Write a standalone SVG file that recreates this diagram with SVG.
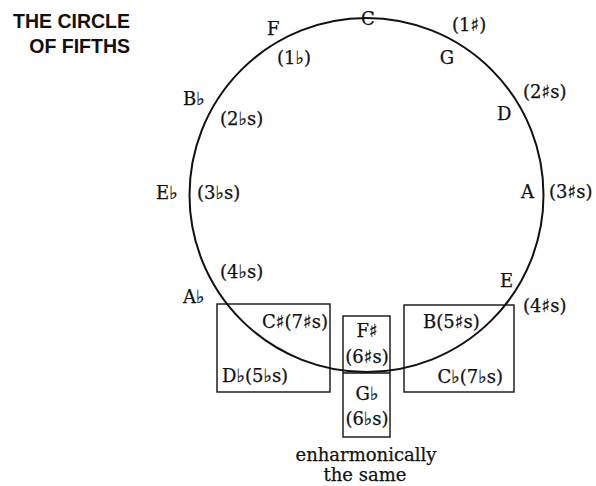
<svg xmlns="http://www.w3.org/2000/svg" width="596" height="486" viewBox="0 0 596 486">
<style>
.t{font-family:"DejaVu Serif","DejaVu Sans",serif;font-size:18px;fill:#111;stroke:#111;stroke-width:0.25}
.m{text-anchor:middle}
.e{text-anchor:end}
.title{font-family:"Liberation Sans",Arial,sans-serif;font-weight:bold;font-size:19.5px;fill:#111;text-anchor:end}
.box{fill:none;stroke:#111;stroke-width:1.4}
</style>
<rect width="596" height="486" fill="#fff"/>
<g id="title">
<text class="title" x="130" y="28">THE CIRCLE</text>
<text class="title" x="130" y="53">OF FIFTHS</text>
</g>
<g id="circle">
<circle cx="366.5" cy="195" r="177" fill="none" stroke="#111" stroke-width="2"/>
</g>
<g id="connectors"></g>
<g id="key-C"><text class="t m" x="368" y="25">C</text></g>
<g id="key-G"><text class="t" x="452" y="31">(1♯)</text><text class="t m" x="447" y="64">G</text></g>
<g id="key-D"><text class="t" x="523" y="98">(2♯s)</text><text class="t" x="497" y="120">D</text></g>
<g id="key-A"><text class="t" x="521" y="198">A</text><text class="t" x="549" y="198">(3♯s)</text></g>
<g id="key-E"><text class="t" x="500" y="287">E</text><text class="t" x="523" y="312">(4♯s)</text></g>
<g id="key-F"><text class="t" x="267" y="35">F</text><text class="t" x="277" y="64">(1♭)</text></g>
<g id="key-Bb"><text class="t" x="183" y="105">B♭</text><text class="t" x="220" y="125">(2♭s)</text></g>
<g id="key-Eb"><text class="t" x="156" y="199">E♭</text><text class="t" x="197" y="199">(3♭s)</text></g>
<g id="key-Ab"><text class="t" x="220" y="278">(4♭s)</text><text class="t" x="183" y="303">A♭</text></g>
<g id="box-left">
<rect class="box" x="217" y="304" width="113" height="88"/>
<text class="t e" x="328" y="328">C♯(7♯s)</text>
<text class="t" x="222" y="382">D♭(5♭s)</text>
</g>
<g id="box-middle">
<rect class="box" x="343" y="316" width="47" height="121"/>
<line class="box" x1="343" y1="373" x2="390" y2="373"/>
<text class="t m" x="367" y="337">F♯</text>
<text class="t m" x="367" y="363">(6♯s)</text>
<text class="t m" x="367" y="400">G♭</text>
<text class="t m" x="367" y="425">(6♭s)</text>
</g>
<g id="box-right">
<rect class="box" x="404" y="305" width="110" height="87"/>
<text class="t" x="423" y="328">B(5♯s)</text>
<text class="t e" x="503" y="383">C♭(7♭s)</text>
</g>
<g id="note">
<text class="t m" x="366" y="461">enharmonically</text>
<text class="t m" x="365" y="481">the same</text>
</g>
</svg>
